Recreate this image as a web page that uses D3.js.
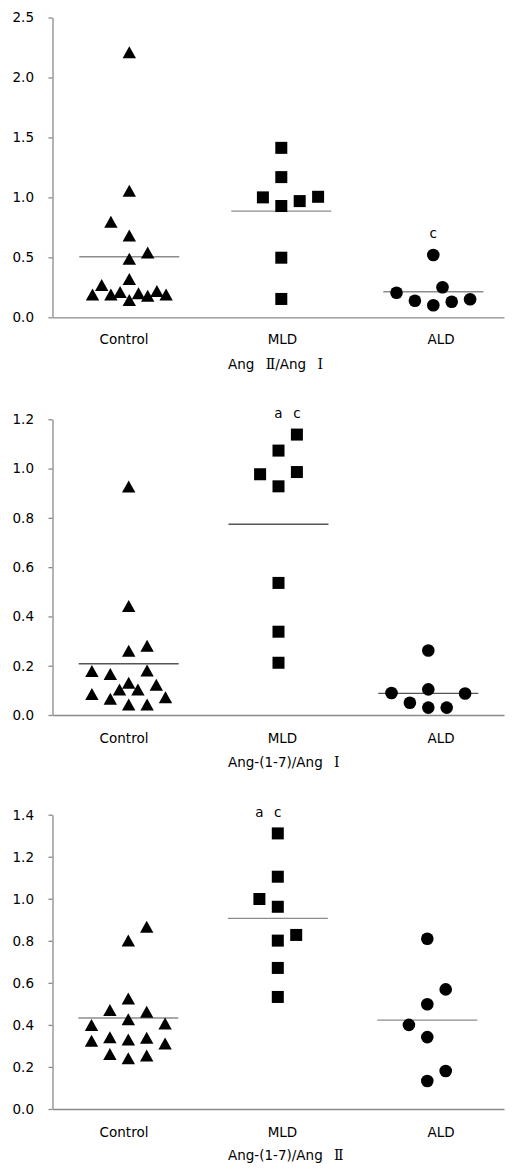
<!DOCTYPE html>
<html>
<head>
<meta charset="utf-8">
<script src="https://cdn.jsdelivr.net/npm/d3@7"></script>
<style>
html,body{margin:0;padding:0;background:#fff;}
svg{display:block;}
text{font-family:"DejaVu Sans",Verdana,sans-serif;font-size:13.5px;fill:#000;}
</style>
</head>
<body>
<svg id="chart" width="514" height="1174"></svg>
<script>
// ---------- data ----------
const categories = ["Control", "MLD", "ALD"];

// Panel 1: Ang II / Ang I
const yTicks1 = [0, 0.5, 1.0, 1.5, 2.0, 2.5];
const control1 = [2.21, 1.055, 0.797, 0.683, 0.54, 0.488, 0.32, 0.27, 0.19, 0.19, 0.21, 0.20, 0.18, 0.22, 0.19, 0.145];
const control1Slot = [0, 0, -2, 0, 2, 0, 0, -3, -4, -2, -1, 1, 2, 3, 4, 0];
const mld1 = [1.413, 1.169, 1.0, 1.005, 0.969, 0.928, 0.497, 0.153];
const mld1Slot = [0, 0, -2, 4, 2, 0, 0, 0];
const ald1 = [0.519, 0.25, 0.205, 0.138, 0.1, 0.13, 0.15];
const ald1Slot = [0, 1, -4, -2, 0, 2, 4];
const means1 = [0.505, 0.886, 0.213];
const notes1 = [{cat: "ALD", slot: 0, value: 0.66, text: "c"}];
const title1 = ["Ang ", "Ⅱ", "/Ang ", "Ⅰ"];

// Panel 2: Ang-(1-7) / Ang I
const yTicks2 = [0, 0.2, 0.4, 0.6, 0.8, 1.0, 1.2];
const control2 = [0.927, 0.442, 0.261, 0.281, 0.179, 0.166, 0.181, 0.131, 0.103, 0.103, 0.123, 0.085, 0.066, 0.043, 0.043, 0.072];
const control2Slot = [0, 0, 0, 2, -4, -2, 2, 0, -1, 1, 3, -4, -2, 0, 2, 4];
const mld2 = [1.138, 1.073, 0.977, 0.986, 0.928, 0.536, 0.338, 0.212];
const mld2Slot = [2, 0, -2, 2, 0, 0, 0, 0];
const ald2 = [0.262, 0.089, 0.104, 0.087, 0.050, 0.030, 0.030];
const ald2Slot = [0, -4, 0, 4, -2, 0, 2];
const means2 = [0.208, 0.774, 0.088];
const notes2 = [{cat: "MLD", slot: 0, value: 1.205, text: "a"}, {cat: "MLD", slot: 2, value: 1.205, text: "c"}];
const title2 = ["Ang-(1-7)/Ang ", "Ⅰ"];

// Panel 3: Ang-(1-7) / Ang II
const yTicks3 = [0, 0.2, 0.4, 0.6, 0.8, 1.0, 1.2, 1.4];
const control3 = [0.867, 0.801, 0.526, 0.471, 0.463, 0.427, 0.4, 0.407, 0.325, 0.341, 0.331, 0.339, 0.312, 0.262, 0.255, 0.241];
const control3Slot = [2, 0, 0, -2, 2, 0, -4, 4, -4, -2, 0, 2, 4, -2, 2, 0];
const mld3 = [1.311, 1.105, 0.999, 0.962, 0.828, 0.801, 0.671, 0.533];
const mld3Slot = [0, 0, -2, 0, 2, 0, 0, 0];
const ald3 = [0.81, 0.569, 0.498, 0.4, 0.342, 0.181, 0.133];
const ald3Slot = [0, 2, 0, -2, 0, 2, 0];
const means3 = [0.433, 0.907, 0.423];
const notes3 = [{cat: "MLD", slot: -2, value: 1.389, text: "a"}, {cat: "MLD", slot: 0, value: 1.389, text: "c"}];
const title3 = ["Ang-(1-7)/Ang ", "Ⅱ"];

// ---------- layout ----------
const svg = d3.select("#chart");
const axisColor = "#8a8a8a";
const slotW = 9.2;
const xLeft = 52.5, xRight = 504;

const panels = [
  {ticks: yTicks1, y0: 317.3, y1: 17.5, ptRange: [129.3, 433.3], meanColor: "#8c8c8c",
   series: [[control1, control1Slot], [mld1, mld1Slot], [ald1, ald1Slot]], means: means1, notes: notes1,
   title: title1, labelY: 343.5, titleY: 368.5},
  {ticks: yTicks2, y0: 715, y1: 419.3, ptRange: [128.7, 428.3], meanColor: "#555555",
   series: [[control2, control2Slot], [mld2, mld2Slot], [ald2, ald2Slot]], means: means2, notes: notes2,
   title: title2, labelY: 742.5, titleY: 767},
  {ticks: yTicks3, y0: 1109, y1: 814.7, ptRange: [128.3, 427.3], meanColor: "#8c8c8c",
   series: [[control3, control3Slot], [mld3, mld3Slot], [ald3, ald3Slot]], means: means3, notes: notes3,
   title: title3, labelY: 1136.5, titleY: 1160}
];

// centered triangle (bbox centered on the point)
const triW = 13.4, triH = 12;
function triPath(x, y) {
  return `M${x},${y - triH / 2}L${x + triW / 2},${y + triH / 2}L${x - triW / 2},${y + triH / 2}Z`;
}
const sq = 12, circR = 6.3;

panels.forEach(p => {
  const top = p.ticks[p.ticks.length - 1];
  const y = d3.scaleLinear().domain([0, top]).range([p.y0, p.y1]);
  const x = d3.scalePoint().domain(categories).range(p.ptRange);
  const xLab = d3.scalePoint().domain(categories).range([124, 441]);
  const xAxisScale = d3.scaleLinear().domain([0, 1]).range([xLeft, xRight]);

  const g = svg.append("g");

  // y axis
  const ya = g.append("g").attr("transform", `translate(${xLeft},0)`)
    .call(d3.axisLeft(y).tickValues(p.ticks).tickFormat(d3.format(".1f")).tickSize(4).tickSizeOuter(0).tickPadding(14.5));
  ya.select(".domain").attr("stroke", axisColor).attr("stroke-width", 1.3);
  ya.selectAll(".tick line").attr("stroke", axisColor).attr("stroke-width", 1.3);
  ya.selectAll(".tick text").style("font-family", "'DejaVu Sans',Verdana,sans-serif").style("font-size", "13.5px").attr("fill", "#000");

  // x axis line
  const xa = g.append("g").attr("transform", `translate(0,${y(0)})`)
    .call(d3.axisBottom(xAxisScale).tickValues([]).tickSizeOuter(0));
  xa.select(".domain").attr("stroke", axisColor).attr("stroke-width", 1.3);

  // category labels
  g.selectAll("text.cat").data(categories).enter().append("text")
    .attr("class", "cat").attr("x", d => xLab(d)).attr("y", p.labelY)
    .attr("text-anchor", "middle").text(d => d);

  // title
  const t = g.append("text").attr("x", 228).attr("y", p.titleY).attr("text-anchor", "start");
  p.title.forEach(s => {
    const ts = t.append("tspan").text(s);
    if (/[ⅠⅡ]/.test(s)) ts.style("font-family", "'DejaVu Serif','Liberation Serif',serif").style("font-size", "14px").attr("dx", 7);
  });

  // mean lines
  g.selectAll("line.mean").data(p.means).enter().append("line")
    .attr("x1", (d, i) => x(categories[i]) - 50).attr("x2", (d, i) => x(categories[i]) + 50)
    .attr("y1", d => y(d)).attr("y2", d => y(d))
    .attr("stroke", p.meanColor).attr("stroke-width", 1.3);

  // control triangles
  const [cv, cs] = p.series[0];
  g.selectAll("path.tri").data(cv).enter().append("path")
    .attr("d", (d, i) => triPath(x("Control") + cs[i] * slotW, y(d)))
    .attr("fill", "#000");

  // MLD squares
  const [mv, ms] = p.series[1];
  g.selectAll("rect.sq").data(mv).enter().append("rect")
    .attr("x", (d, i) => x("MLD") + ms[i] * slotW - sq / 2)
    .attr("y", d => y(d) - sq / 2)
    .attr("width", sq).attr("height", sq).attr("fill", "#000");

  // ALD circles
  const [av, as] = p.series[2];
  g.selectAll("circle.c").data(av).enter().append("circle")
    .attr("cx", (d, i) => x("ALD") + as[i] * slotW)
    .attr("cy", d => y(d)).attr("r", circR).attr("fill", "#000");

  // annotation letters
  g.selectAll("text.note").data(p.notes).enter().append("text")
    .attr("x", d => x(d.cat) + d.slot * slotW).attr("y", d => y(d.value))
    .attr("text-anchor", "middle").text(d => d.text);
});
</script>
</body>
</html>
